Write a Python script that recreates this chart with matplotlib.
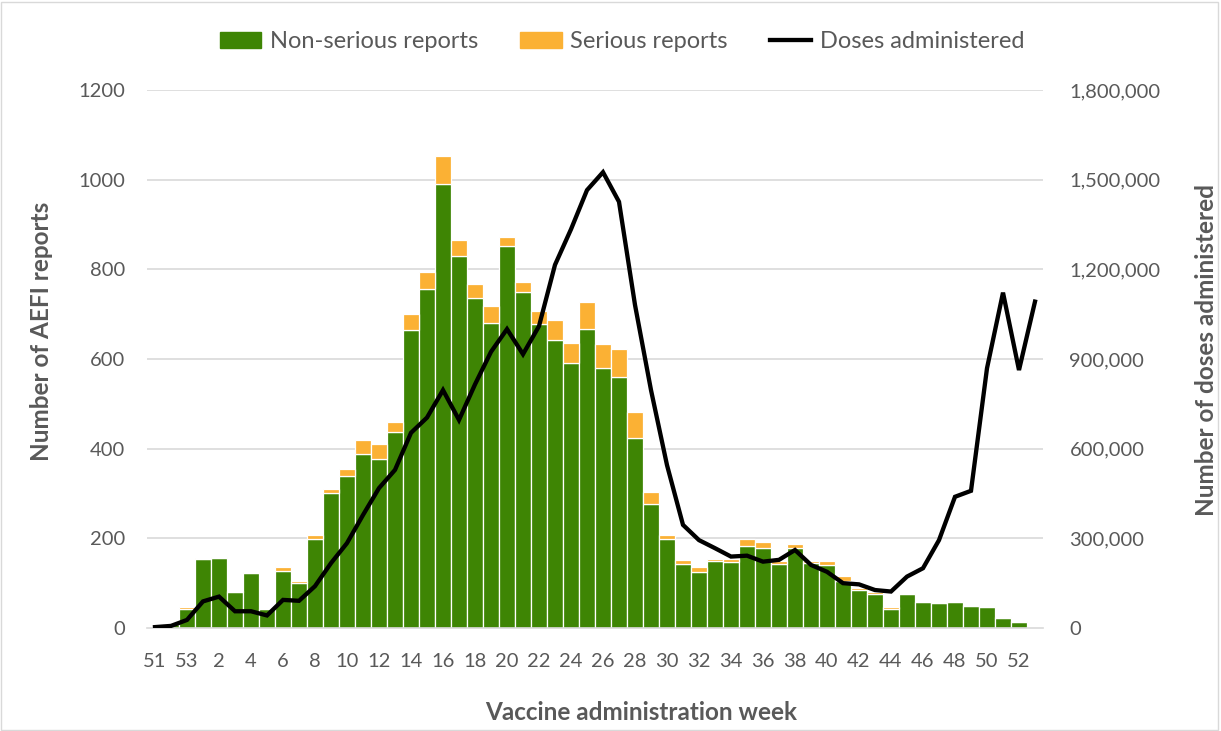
import matplotlib
matplotlib.use("Agg")
import matplotlib.pyplot as plt
from matplotlib.ticker import FuncFormatter
from matplotlib.patches import Rectangle
from matplotlib.lines import Line2D
import numpy as np

weeks = ['51', '52', '53'] + [str(w) for w in range(1, 53)] + ['1']

non_serious = [3, 10, 43, 153, 156, 80, 123, 42, 128, 100,
               199, 302, 338, 387, 378, 437, 665, 756, 991, 830,
               735, 680, 851, 749, 678, 643, 591, 666, 581, 560,
               423, 276, 198, 143, 124, 150, 148, 183, 178, 143,
               179, 145, 140, 105, 85, 75, 43, 75, 57, 55,
               59, 48, 46, 22, 14, 3]
serious = [0, 0, 3, 3, 3, 3, 2, 1, 7, 4,
           9, 8, 16, 33, 32, 22, 35, 38, 62, 36,
           33, 39, 22, 22, 30, 45, 45, 62, 52, 63,
           59, 28, 9, 8, 12, 5, 6, 15, 13, 7,
           8, 5, 10, 10, 4, 5, 3, 3, 1, 3,
           2, 4, 2, 2, 1, 0]
doses = [3000, 7000, 27000, 89000, 105000, 56000, 56000, 42000, 94000, 91000,
         140000, 217000, 284000, 378000, 468000, 529000, 653000, 704000, 796000, 696000,
         815000, 924000, 1000000, 916000, 1010000, 1215000, 1334000, 1465000, 1525000, 1426000,
         1081000, 796000, 545000, 345000, 294000, 267000, 239000, 242000, 222000, 228000,
         261000, 211000, 188000, 150000, 146000, 127000, 122000, 172000, 200000, 294000,
         439000, 459000, 869000, 1122000, 863000, 1092000]

GREEN = '#3e8504'
ORANGE = '#fbb134'
GRAY = '#595959'
FONT = 'Lato'

plt.rcParams['font.family'] = [FONT, 'DejaVu Sans']

W, H = 1221, 731
fig = plt.figure(figsize=(W / 100, H / 100), dpi=100)
left, right, top, bottom = 147, 1043, 90, 628
ax = fig.add_axes([left / W, 1 - bottom / H, (right - left) / W, (bottom - top) / H])

x = np.arange(len(weeks))
ax.bar(x, non_serious, width=1.0, color=GREEN, edgecolor='white', linewidth=0.9, zorder=2)
ax.bar(x, serious, width=1.0, bottom=non_serious, color=ORANGE, edgecolor='white', linewidth=0.9, zorder=2)

ax.set_xlim(-0.5, len(weeks) - 0.5)
ax.set_ylim(0, 1200)
ax.set_yticks(np.arange(0, 1201, 200))
ax.yaxis.grid(True, color='#d9d9d9', linewidth=1.2, zorder=0)
ax.set_axisbelow(True)
for s in ['top', 'right', 'left']:
    ax.spines[s].set_visible(False)
ax.spines['bottom'].set_color('#d9d9d9')
ax.spines['bottom'].set_linewidth(1.2)
ax.tick_params(axis='both', length=0, labelsize=14.5, labelcolor=GRAY)
ax.tick_params(axis='y', pad=16)
ax.tick_params(axis='x', pad=18)
ax.set_xticks(x[::2])
ax.set_xticklabels(weeks[::2])

ax2 = ax.twinx()
ax2.plot(x, doses, color='black', linewidth=3.1, zorder=3, solid_joinstyle='miter')
ax2.set_ylim(0, 1800000)
ax2.set_yticks(np.arange(0, 1800001, 300000))
ax2.yaxis.set_major_formatter(FuncFormatter(lambda v, p: f'{int(v):,}'))
for s in ['top', 'right', 'left', 'bottom']:
    ax2.spines[s].set_visible(False)
ax2.tick_params(axis='y', length=0, labelsize=14.5, labelcolor=GRAY, pad=19)

fig.text(42 / W, 1 - 331 / H, 'Number of AEFI reports', rotation=90, ha='center', va='center',
         fontsize=17.5, fontweight='bold', color=GRAY)
fig.text(1207 / W, 1 - 350 / H, 'Number of doses administered', rotation=90, ha='center', va='center',
         fontsize=17.5, fontweight='bold', color=GRAY)
fig.text(641 / W, 1 - 713 / H, 'Vaccine administration week', ha='center', va='center',
         fontsize=17.5, fontweight='bold', color=GRAY)

handles = [Rectangle((0, 0), 1, 1, color=GREEN),
           Rectangle((0, 0), 1, 1, color=ORANGE),
           Line2D([0], [0], color='black', linewidth=3.1)]
fig.legend(handles, ['Non-serious reports', 'Serious reports', 'Doses administered'],
           loc='center', bbox_to_anchor=(622 / W, 1 - 42 / H), ncol=3, frameon=False,
           fontsize=17, labelcolor=GRAY, handlelength=1.75, handleheight=0.65,
           columnspacing=1.8, handletextpad=0.35)

fig.patches.append(Rectangle((1 / W, 1 / H), (W - 4) / W, (H - 3) / H, transform=fig.transFigure,
                             fill=False, edgecolor='#d9d9d9', linewidth=1))

fig.savefig('out.png', dpi=100)
